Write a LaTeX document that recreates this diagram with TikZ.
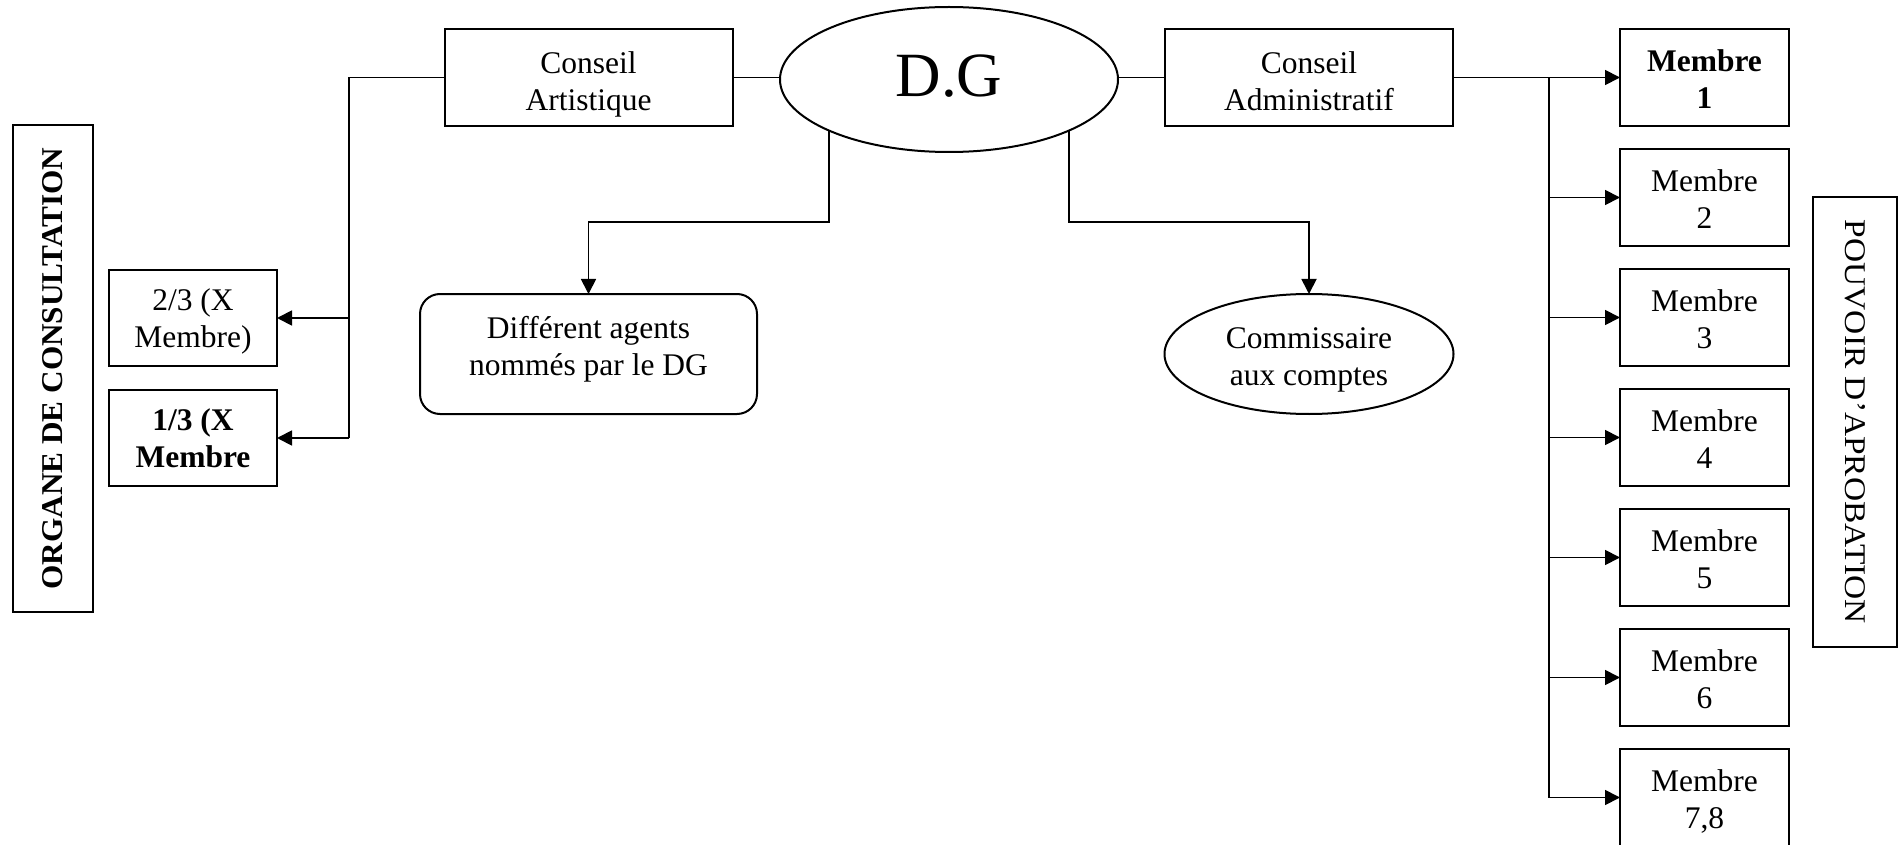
\documentclass[tikz,border=0pt]{standalone}
\usepackage{fontspec}
\setmainfont{Liberation Serif}
\usetikzlibrary{arrows.meta,shapes.geometric,calc}
% two lines with struts: #1 height of first line, #2 depth of last line
\newcommand{\twol}[4]{\rule{0pt}{#1pt}#3\\#4\rule[-#2pt]{0pt}{#2pt}}
\begin{document}
\begin{tikzpicture}[x=1pt,y=-1pt,
  txt/.style={align=center,font=\fontsize{31.5}{37}\selectfont},
  box/.style={txt,draw,line width=2pt,rectangle,inner sep=0pt,outer sep=0pt},
  bigbox/.style={box,minimum width=288pt,minimum height=97pt},
  mbox/.style={box,minimum width=169pt,minimum height=97pt},
  sbox/.style={box,minimum width=168pt,minimum height=96pt},
  oval/.style={txt,draw,line width=2pt,ellipse,inner sep=0pt,outer sep=0pt},
  vbox/.style={draw,line width=2pt,inner sep=0pt,outer sep=0pt},
  conn/.style={line width=1.8pt},
  arr/.style={conn,-{Triangle[length=15pt,width=15pt]}}
]
\useasboundingbox (0,0) rectangle (1899,845);

% top row
\node[bigbox] (ca) at (588.6,77.5) {\twol{36.6}{8}{Conseil}{Artistique}};
\node[oval,minimum width=338pt,minimum height=145pt,font=\fontsize{63}{63}\selectfont,
      text height=43pt,text depth=8.6pt] (dg) at (949,79.5) {D.G};
\node[bigbox] (cadm) at (1309,77.5) {\twol{36.6}{8}{Conseil}{Administratif}};

% members
\node[mbox,font=\fontsize{31.5}{37}\selectfont\bfseries] (m1) at (1704.5,77.5) {\twol{33.4}{8}{Membre}{1}};
\node[mbox] (m2) at (1704.5,197.5) {\twol{33.4}{8}{Membre}{2}};
\node[mbox] (m3) at (1704.5,317.5) {\twol{33.4}{8}{Membre}{3}};
\node[mbox] (m4) at (1704.5,437.5) {\twol{33.4}{8}{Membre}{4}};
\node[mbox] (m5) at (1704.5,557.5) {\twol{33.4}{8}{Membre}{5}};
\node[mbox] (m6) at (1704.5,677.5) {\twol{33.4}{8}{Membre}{6}};
\node[mbox] (m7) at (1704.5,797.5) {\twol{33.4}{8}{Membre}{7,8}};

% left boxes
\node[sbox] (t23) at (193,318) {\twol{29}{8}{2/3 (X}{Membre)}};
\node[sbox,font=\fontsize{31.5}{37}\selectfont\bfseries] (t13) at (193,438) {\twol{29}{8}{1/3 (X}{Membre}};

% lower nodes
\node[box,rounded corners=20pt,minimum width=337pt,minimum height=120pt] (ag) at (588.5,354)
  {\twol{24}{18.4}{Différent agents}{nommés par le DG}};
\node[oval,minimum width=289pt,minimum height=120pt] (cc) at (1309,354)
  {\twol{33.6}{8}{Commissaire}{aux comptes}};

% vertical labels
\node[vbox,rotate=90,minimum width=487pt,minimum height=80pt] (oc) at (53,368.5)
  {\resizebox{442pt}{20pt}{\fontsize{30}{30}\selectfont\bfseries ORGANE DE CONSULTATION}};
\node[vbox,rotate=-90,minimum width=450pt,minimum height=84pt] (pa) at (1855,422)
  {\resizebox{404pt}{20pt}{\fontsize{30}{30}\selectfont POUVOIR D'APROBATION}};

% helper coordinates
\coordinate (lb) at (349,77.5);
\coordinate (rb) at (1549,77.5);
\coordinate (hy) at (0,222);

% connectors
\draw[conn] (ca.east) -- (ca.east -| dg.west);
\draw[conn] (cadm.west -| dg.east) -- (cadm.west);

\draw[conn] (ca.west) -- (lb) -- (lb |- t13.east);
\draw[arr] (lb |- t23.east) -- (t23.east);
\draw[arr] (lb |- t13.east) -- (t13.east);

\draw[arr] (dg.203) |- (hy -| ag.north) -- (ag.north);
\draw[arr] (dg.-23.4) |- (hy -| cc.north) -- (cc.north);

\draw[arr] (cadm.east) -- (m1.west);
\draw[conn] (rb) -- (rb |- m7.west);
\foreach \k in {2,...,7}{
  \draw[arr] (rb |- m\k.west) -- (m\k.west);
}
\end{tikzpicture}
\end{document}
